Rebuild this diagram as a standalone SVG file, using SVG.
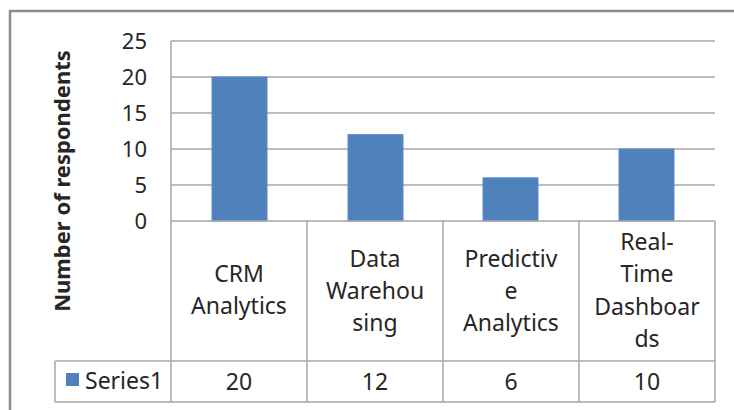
<svg xmlns="http://www.w3.org/2000/svg" width="734" height="410" viewBox="0 0 734 410">
<style>
.t{font-family:"Noto Sans","Liberation Sans",sans-serif;font-size:23px;fill:#262626}
.c{text-anchor:middle}
.r{text-anchor:end}
.grid{stroke:#a6a6a6;stroke-width:1.5}
.tbl{stroke:#a6a6a6;stroke-width:1.5;fill:none}
.bar{fill:#4f81bd;stroke:#5b8ccb;stroke-width:1}
</style>
<rect width="734" height="410" fill="#fff"/>
<path d="M10,412 V11 H736" fill="none" stroke="#8c8c8c" stroke-width="2.5"/>
<g id="gridlines">
<line class="grid" x1="171" y1="41" x2="715" y2="41"/>
<line class="grid" x1="171" y1="77" x2="715" y2="77"/>
<line class="grid" x1="171" y1="113" x2="715" y2="113"/>
<line class="grid" x1="171" y1="149" x2="715" y2="149"/>
<line class="grid" x1="171" y1="185" x2="715" y2="185"/>
<line class="grid" x1="171" y1="41" x2="171" y2="221"/>
</g>
<g id="axis-labels">
<text class="t r" x="147" y="49" style="font-size:22px">25</text>
<text class="t r" x="147" y="85" style="font-size:22px">20</text>
<text class="t r" x="147" y="121" style="font-size:22px">15</text>
<text class="t r" x="147" y="157" style="font-size:22px">10</text>
<text class="t r" x="147" y="193" style="font-size:22px">5</text>
<text class="t r" x="147" y="229" style="font-size:22px">0</text>
<text class="t c" transform="translate(70,181) rotate(-90)" style="font-weight:bold;font-size:22px">Number of respondents</text>
</g>
<g id="bars">
<rect id="bar-crm" class="bar" x="212" y="77" width="55" height="144"/>
<rect id="bar-dw" class="bar" x="348" y="134.6" width="55" height="86.4"/>
<rect id="bar-pa" class="bar" x="483" y="177.8" width="55" height="43.2"/>
<rect id="bar-rtd" class="bar" x="619" y="149" width="55" height="72"/>
</g>
<g id="table">
<path class="tbl" d="M171,221 H715 M55,361 H715 M55,402 H715 M55,361 V402 M171,221 V402 M307,221 V402 M443,221 V402 M579,221 V402 M715,221 V402"/>
<rect x="66" y="373" width="13" height="13" fill="#4f81bd"/>
<text class="t" x="85" y="389">Series1</text>
<text class="t c" x="239" y="282">CRM</text>
<text class="t c" x="239" y="314">Analytics</text>
<text class="t c" x="375" y="267">Data</text>
<text class="t c" x="375" y="299">Warehou</text>
<text class="t c" x="375" y="331">sing</text>
<text class="t c" x="511" y="267">Predictiv</text>
<text class="t c" x="511" y="299">e</text>
<text class="t c" x="511" y="331">Analytics</text>
<text class="t c" x="647" y="250">Real-</text>
<text class="t c" x="647" y="282">Time</text>
<text class="t c" x="647" y="315">Dashboar</text>
<text class="t c" x="647" y="347">ds</text>
<text class="t c" x="239" y="390">20</text>
<text class="t c" x="375" y="390">12</text>
<text class="t c" x="511" y="390">6</text>
<text class="t c" x="647" y="390">10</text>
</g>
</svg>
